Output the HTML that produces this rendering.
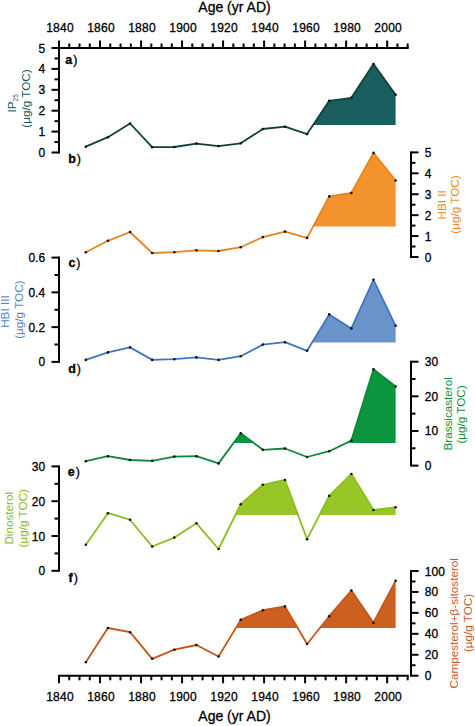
<!DOCTYPE html>
<html><head><meta charset="utf-8"><style>
html,body{margin:0;padding:0;background:#fff;width:475px;height:726px;overflow:hidden}
</style></head><body>
<svg width="475" height="726" viewBox="0 0 475 726" style="display:block">
<rect width="475" height="726" fill="#fff"/>
<path d="M313.08,125.10 L329.23,100.80 L351.36,97.80 L373.49,64.00 L395.62,94.80 L395.62,125.10 Z " fill="#1b5e5f"/>
<polyline points="85.80,146.70 107.93,137.20 130.06,123.50 152.19,147.20 174.32,147.00 196.45,143.60 218.58,146.10 240.71,143.30 262.84,129.00 284.97,126.70 307.10,134.10 329.23,100.80 351.36,97.80 373.49,64.00 395.62,94.80" fill="none" stroke="#11403f" stroke-width="1.8" stroke-linejoin="round"/>
<circle cx="85.80" cy="146.70" r="1.3" fill="#111"/>
<circle cx="107.93" cy="137.20" r="1.3" fill="#111"/>
<circle cx="130.06" cy="123.50" r="1.3" fill="#111"/>
<circle cx="152.19" cy="147.20" r="1.3" fill="#111"/>
<circle cx="174.32" cy="147.00" r="1.3" fill="#111"/>
<circle cx="196.45" cy="143.60" r="1.3" fill="#111"/>
<circle cx="218.58" cy="146.10" r="1.3" fill="#111"/>
<circle cx="240.71" cy="143.30" r="1.3" fill="#111"/>
<circle cx="262.84" cy="129.00" r="1.3" fill="#111"/>
<circle cx="284.97" cy="126.70" r="1.3" fill="#111"/>
<circle cx="307.10" cy="134.10" r="1.3" fill="#111"/>
<circle cx="329.23" cy="100.80" r="1.3" fill="#111"/>
<circle cx="351.36" cy="97.80" r="1.3" fill="#111"/>
<circle cx="373.49" cy="64.00" r="1.3" fill="#111"/>
<circle cx="395.62" cy="94.80" r="1.3" fill="#111"/>
<path d="M313.13,226.60 L329.23,196.40 L351.36,193.00 L373.49,152.90 L395.62,180.50 L395.62,226.60 Z " fill="#f2932d"/>
<polyline points="85.80,252.20 107.93,240.80 130.06,232.00 152.19,253.00 174.32,252.20 196.45,250.30 218.58,251.00 240.71,247.20 262.84,237.10 284.97,231.60 307.10,237.90 329.23,196.40 351.36,193.00 373.49,152.90 395.62,180.50" fill="none" stroke="#e9841c" stroke-width="1.8" stroke-linejoin="round"/>
<circle cx="85.80" cy="252.20" r="1.3" fill="#111"/>
<circle cx="107.93" cy="240.80" r="1.3" fill="#111"/>
<circle cx="130.06" cy="232.00" r="1.3" fill="#111"/>
<circle cx="152.19" cy="253.00" r="1.3" fill="#111"/>
<circle cx="174.32" cy="252.20" r="1.3" fill="#111"/>
<circle cx="196.45" cy="250.30" r="1.3" fill="#111"/>
<circle cx="218.58" cy="251.00" r="1.3" fill="#111"/>
<circle cx="240.71" cy="247.20" r="1.3" fill="#111"/>
<circle cx="262.84" cy="237.10" r="1.3" fill="#111"/>
<circle cx="284.97" cy="231.60" r="1.3" fill="#111"/>
<circle cx="307.10" cy="237.90" r="1.3" fill="#111"/>
<circle cx="329.23" cy="196.40" r="1.3" fill="#111"/>
<circle cx="351.36" cy="193.00" r="1.3" fill="#111"/>
<circle cx="373.49" cy="152.90" r="1.3" fill="#111"/>
<circle cx="395.62" cy="180.50" r="1.3" fill="#111"/>
<path d="M312.09,342.60 L329.23,314.40 L351.36,328.40 L373.49,279.80 L395.62,325.80 L395.62,342.60 Z " fill="#6a92cb"/>
<polyline points="85.80,359.90 107.93,352.40 130.06,347.40 152.19,359.90 174.32,359.20 196.45,357.40 218.58,359.90 240.71,356.20 262.84,344.60 284.97,342.20 307.10,350.80 329.23,314.40 351.36,328.40 373.49,279.80 395.62,325.80" fill="none" stroke="#4275c0" stroke-width="1.8" stroke-linejoin="round"/>
<circle cx="85.80" cy="359.90" r="1.3" fill="#111"/>
<circle cx="107.93" cy="352.40" r="1.3" fill="#111"/>
<circle cx="130.06" cy="347.40" r="1.3" fill="#111"/>
<circle cx="152.19" cy="359.90" r="1.3" fill="#111"/>
<circle cx="174.32" cy="359.20" r="1.3" fill="#111"/>
<circle cx="196.45" cy="357.40" r="1.3" fill="#111"/>
<circle cx="218.58" cy="359.90" r="1.3" fill="#111"/>
<circle cx="240.71" cy="356.20" r="1.3" fill="#111"/>
<circle cx="262.84" cy="344.60" r="1.3" fill="#111"/>
<circle cx="284.97" cy="342.20" r="1.3" fill="#111"/>
<circle cx="307.10" cy="350.80" r="1.3" fill="#111"/>
<circle cx="329.23" cy="314.40" r="1.3" fill="#111"/>
<circle cx="351.36" cy="328.40" r="1.3" fill="#111"/>
<circle cx="373.49" cy="279.80" r="1.3" fill="#111"/>
<circle cx="395.62" cy="325.80" r="1.3" fill="#111"/>
<path d="M233.50,443.10 L240.71,433.30 L253.85,443.10 Z M346.14,443.10 L351.36,440.60 L373.49,369.30 L395.62,386.50 L395.62,443.10 Z " fill="#0a953e"/>
<polyline points="85.80,461.20 107.93,456.20 130.06,460.00 152.19,460.80 174.32,456.60 196.45,456.20 218.58,463.40 240.71,433.30 262.84,449.80 284.97,448.50 307.10,457.00 329.23,451.20 351.36,440.60 373.49,369.30 395.62,386.50" fill="none" stroke="#0a8a38" stroke-width="1.8" stroke-linejoin="round"/>
<circle cx="85.80" cy="461.20" r="1.3" fill="#111"/>
<circle cx="107.93" cy="456.20" r="1.3" fill="#111"/>
<circle cx="130.06" cy="460.00" r="1.3" fill="#111"/>
<circle cx="152.19" cy="460.80" r="1.3" fill="#111"/>
<circle cx="174.32" cy="456.60" r="1.3" fill="#111"/>
<circle cx="196.45" cy="456.20" r="1.3" fill="#111"/>
<circle cx="218.58" cy="463.40" r="1.3" fill="#111"/>
<circle cx="240.71" cy="433.30" r="1.3" fill="#111"/>
<circle cx="262.84" cy="449.80" r="1.3" fill="#111"/>
<circle cx="284.97" cy="448.50" r="1.3" fill="#111"/>
<circle cx="307.10" cy="457.00" r="1.3" fill="#111"/>
<circle cx="329.23" cy="451.20" r="1.3" fill="#111"/>
<circle cx="351.36" cy="440.60" r="1.3" fill="#111"/>
<circle cx="373.49" cy="369.30" r="1.3" fill="#111"/>
<circle cx="395.62" cy="386.50" r="1.3" fill="#111"/>
<path d="M235.38,515.00 L240.71,504.20 L262.84,484.80 L284.97,480.00 L298.05,515.00 Z M319.47,515.00 L329.23,495.90 L351.36,474.00 L373.49,510.00 L395.62,507.30 L395.62,515.00 Z " fill="#98c626"/>
<polyline points="85.80,544.70 107.93,513.20 130.06,519.70 152.19,546.50 174.32,537.60 196.45,523.30 218.58,549.00 240.71,504.20 262.84,484.80 284.97,480.00 307.10,539.20 329.23,495.90 351.36,474.00 373.49,510.00 395.62,507.30" fill="none" stroke="#88bf1e" stroke-width="1.8" stroke-linejoin="round"/>
<circle cx="85.80" cy="544.70" r="1.3" fill="#111"/>
<circle cx="107.93" cy="513.20" r="1.3" fill="#111"/>
<circle cx="130.06" cy="519.70" r="1.3" fill="#111"/>
<circle cx="152.19" cy="546.50" r="1.3" fill="#111"/>
<circle cx="174.32" cy="537.60" r="1.3" fill="#111"/>
<circle cx="196.45" cy="523.30" r="1.3" fill="#111"/>
<circle cx="218.58" cy="549.00" r="1.3" fill="#111"/>
<circle cx="240.71" cy="504.20" r="1.3" fill="#111"/>
<circle cx="262.84" cy="484.80" r="1.3" fill="#111"/>
<circle cx="284.97" cy="480.00" r="1.3" fill="#111"/>
<circle cx="307.10" cy="539.20" r="1.3" fill="#111"/>
<circle cx="329.23" cy="495.90" r="1.3" fill="#111"/>
<circle cx="351.36" cy="474.00" r="1.3" fill="#111"/>
<circle cx="373.49" cy="510.00" r="1.3" fill="#111"/>
<circle cx="395.62" cy="507.30" r="1.3" fill="#111"/>
<path d="M235.81,628.00 L240.71,619.90 L262.84,610.20 L284.97,606.40 L297.68,628.00 Z M319.84,628.00 L329.23,616.20 L351.36,590.50 L373.49,622.70 L395.62,580.80 L395.62,628.00 Z " fill="#cc6020"/>
<polyline points="85.80,662.20 107.93,628.00 130.06,632.20 152.19,658.80 174.32,649.70 196.45,645.00 218.58,656.50 240.71,619.90 262.84,610.20 284.97,606.40 307.10,644.00 329.23,616.20 351.36,590.50 373.49,622.70 395.62,580.80" fill="none" stroke="#c5561a" stroke-width="1.8" stroke-linejoin="round"/>
<circle cx="85.80" cy="662.20" r="1.3" fill="#111"/>
<circle cx="107.93" cy="628.00" r="1.3" fill="#111"/>
<circle cx="130.06" cy="632.20" r="1.3" fill="#111"/>
<circle cx="152.19" cy="658.80" r="1.3" fill="#111"/>
<circle cx="174.32" cy="649.70" r="1.3" fill="#111"/>
<circle cx="196.45" cy="645.00" r="1.3" fill="#111"/>
<circle cx="218.58" cy="656.50" r="1.3" fill="#111"/>
<circle cx="240.71" cy="619.90" r="1.3" fill="#111"/>
<circle cx="262.84" cy="610.20" r="1.3" fill="#111"/>
<circle cx="284.97" cy="606.40" r="1.3" fill="#111"/>
<circle cx="307.10" cy="644.00" r="1.3" fill="#111"/>
<circle cx="329.23" cy="616.20" r="1.3" fill="#111"/>
<circle cx="351.36" cy="590.50" r="1.3" fill="#111"/>
<circle cx="373.49" cy="622.70" r="1.3" fill="#111"/>
<circle cx="395.62" cy="580.80" r="1.3" fill="#111"/>
<line x1="58.00" y1="48.00" x2="408.67" y2="48.00" stroke="#000" stroke-width="2"/>
<line x1="59.00" y1="48.00" x2="59.00" y2="40.50" stroke="#000" stroke-width="2"/>
<text x="60.00" y="32.00" font-size="12" text-anchor="middle" font-weight="normal" fill="#000" stroke="#000" stroke-width="0.3" style="font-family:'Liberation Sans', sans-serif;" letter-spacing="0.25">1840</text>
<line x1="69.25" y1="48.00" x2="69.25" y2="43.50" stroke="#000" stroke-width="2"/>
<line x1="79.51" y1="48.00" x2="79.51" y2="43.50" stroke="#000" stroke-width="2"/>
<line x1="89.77" y1="48.00" x2="89.77" y2="43.50" stroke="#000" stroke-width="2"/>
<line x1="100.02" y1="48.00" x2="100.02" y2="40.50" stroke="#000" stroke-width="2"/>
<text x="101.02" y="32.00" font-size="12" text-anchor="middle" font-weight="normal" fill="#000" stroke="#000" stroke-width="0.3" style="font-family:'Liberation Sans', sans-serif;" letter-spacing="0.25">1860</text>
<line x1="110.28" y1="48.00" x2="110.28" y2="43.50" stroke="#000" stroke-width="2"/>
<line x1="120.53" y1="48.00" x2="120.53" y2="43.50" stroke="#000" stroke-width="2"/>
<line x1="130.79" y1="48.00" x2="130.79" y2="43.50" stroke="#000" stroke-width="2"/>
<line x1="141.04" y1="48.00" x2="141.04" y2="40.50" stroke="#000" stroke-width="2"/>
<text x="142.04" y="32.00" font-size="12" text-anchor="middle" font-weight="normal" fill="#000" stroke="#000" stroke-width="0.3" style="font-family:'Liberation Sans', sans-serif;" letter-spacing="0.25">1880</text>
<line x1="151.30" y1="48.00" x2="151.30" y2="43.50" stroke="#000" stroke-width="2"/>
<line x1="161.55" y1="48.00" x2="161.55" y2="43.50" stroke="#000" stroke-width="2"/>
<line x1="171.81" y1="48.00" x2="171.81" y2="43.50" stroke="#000" stroke-width="2"/>
<line x1="182.06" y1="48.00" x2="182.06" y2="40.50" stroke="#000" stroke-width="2"/>
<text x="183.06" y="32.00" font-size="12" text-anchor="middle" font-weight="normal" fill="#000" stroke="#000" stroke-width="0.3" style="font-family:'Liberation Sans', sans-serif;" letter-spacing="0.25">1900</text>
<line x1="192.31" y1="48.00" x2="192.31" y2="43.50" stroke="#000" stroke-width="2"/>
<line x1="202.57" y1="48.00" x2="202.57" y2="43.50" stroke="#000" stroke-width="2"/>
<line x1="212.83" y1="48.00" x2="212.83" y2="43.50" stroke="#000" stroke-width="2"/>
<line x1="223.08" y1="48.00" x2="223.08" y2="40.50" stroke="#000" stroke-width="2"/>
<text x="224.08" y="32.00" font-size="12" text-anchor="middle" font-weight="normal" fill="#000" stroke="#000" stroke-width="0.3" style="font-family:'Liberation Sans', sans-serif;" letter-spacing="0.25">1920</text>
<line x1="233.34" y1="48.00" x2="233.34" y2="43.50" stroke="#000" stroke-width="2"/>
<line x1="243.59" y1="48.00" x2="243.59" y2="43.50" stroke="#000" stroke-width="2"/>
<line x1="253.85" y1="48.00" x2="253.85" y2="43.50" stroke="#000" stroke-width="2"/>
<line x1="264.10" y1="48.00" x2="264.10" y2="40.50" stroke="#000" stroke-width="2"/>
<text x="265.10" y="32.00" font-size="12" text-anchor="middle" font-weight="normal" fill="#000" stroke="#000" stroke-width="0.3" style="font-family:'Liberation Sans', sans-serif;" letter-spacing="0.25">1940</text>
<line x1="274.36" y1="48.00" x2="274.36" y2="43.50" stroke="#000" stroke-width="2"/>
<line x1="284.61" y1="48.00" x2="284.61" y2="43.50" stroke="#000" stroke-width="2"/>
<line x1="294.87" y1="48.00" x2="294.87" y2="43.50" stroke="#000" stroke-width="2"/>
<line x1="305.12" y1="48.00" x2="305.12" y2="40.50" stroke="#000" stroke-width="2"/>
<text x="306.12" y="32.00" font-size="12" text-anchor="middle" font-weight="normal" fill="#000" stroke="#000" stroke-width="0.3" style="font-family:'Liberation Sans', sans-serif;" letter-spacing="0.25">1960</text>
<line x1="315.38" y1="48.00" x2="315.38" y2="43.50" stroke="#000" stroke-width="2"/>
<line x1="325.63" y1="48.00" x2="325.63" y2="43.50" stroke="#000" stroke-width="2"/>
<line x1="335.89" y1="48.00" x2="335.89" y2="43.50" stroke="#000" stroke-width="2"/>
<line x1="346.14" y1="48.00" x2="346.14" y2="40.50" stroke="#000" stroke-width="2"/>
<text x="347.14" y="32.00" font-size="12" text-anchor="middle" font-weight="normal" fill="#000" stroke="#000" stroke-width="0.3" style="font-family:'Liberation Sans', sans-serif;" letter-spacing="0.25">1980</text>
<line x1="356.40" y1="48.00" x2="356.40" y2="43.50" stroke="#000" stroke-width="2"/>
<line x1="366.65" y1="48.00" x2="366.65" y2="43.50" stroke="#000" stroke-width="2"/>
<line x1="376.91" y1="48.00" x2="376.91" y2="43.50" stroke="#000" stroke-width="2"/>
<line x1="387.16" y1="48.00" x2="387.16" y2="40.50" stroke="#000" stroke-width="2"/>
<text x="388.16" y="32.00" font-size="12" text-anchor="middle" font-weight="normal" fill="#000" stroke="#000" stroke-width="0.3" style="font-family:'Liberation Sans', sans-serif;" letter-spacing="0.25">2000</text>
<line x1="397.42" y1="48.00" x2="397.42" y2="43.50" stroke="#000" stroke-width="2"/>
<line x1="407.67" y1="48.00" x2="407.67" y2="43.50" stroke="#000" stroke-width="2"/>
<line x1="58.00" y1="675.80" x2="408.67" y2="675.80" stroke="#000" stroke-width="2"/>
<line x1="59.00" y1="675.80" x2="59.00" y2="683.30" stroke="#000" stroke-width="2"/>
<text x="60.00" y="700.60" font-size="12" text-anchor="middle" font-weight="normal" fill="#000" stroke="#000" stroke-width="0.3" style="font-family:'Liberation Sans', sans-serif;" letter-spacing="0.25">1840</text>
<line x1="69.25" y1="675.80" x2="69.25" y2="680.30" stroke="#000" stroke-width="2"/>
<line x1="79.51" y1="675.80" x2="79.51" y2="680.30" stroke="#000" stroke-width="2"/>
<line x1="89.77" y1="675.80" x2="89.77" y2="680.30" stroke="#000" stroke-width="2"/>
<line x1="100.02" y1="675.80" x2="100.02" y2="683.30" stroke="#000" stroke-width="2"/>
<text x="101.02" y="700.60" font-size="12" text-anchor="middle" font-weight="normal" fill="#000" stroke="#000" stroke-width="0.3" style="font-family:'Liberation Sans', sans-serif;" letter-spacing="0.25">1860</text>
<line x1="110.28" y1="675.80" x2="110.28" y2="680.30" stroke="#000" stroke-width="2"/>
<line x1="120.53" y1="675.80" x2="120.53" y2="680.30" stroke="#000" stroke-width="2"/>
<line x1="130.79" y1="675.80" x2="130.79" y2="680.30" stroke="#000" stroke-width="2"/>
<line x1="141.04" y1="675.80" x2="141.04" y2="683.30" stroke="#000" stroke-width="2"/>
<text x="142.04" y="700.60" font-size="12" text-anchor="middle" font-weight="normal" fill="#000" stroke="#000" stroke-width="0.3" style="font-family:'Liberation Sans', sans-serif;" letter-spacing="0.25">1880</text>
<line x1="151.30" y1="675.80" x2="151.30" y2="680.30" stroke="#000" stroke-width="2"/>
<line x1="161.55" y1="675.80" x2="161.55" y2="680.30" stroke="#000" stroke-width="2"/>
<line x1="171.81" y1="675.80" x2="171.81" y2="680.30" stroke="#000" stroke-width="2"/>
<line x1="182.06" y1="675.80" x2="182.06" y2="683.30" stroke="#000" stroke-width="2"/>
<text x="183.06" y="700.60" font-size="12" text-anchor="middle" font-weight="normal" fill="#000" stroke="#000" stroke-width="0.3" style="font-family:'Liberation Sans', sans-serif;" letter-spacing="0.25">1900</text>
<line x1="192.31" y1="675.80" x2="192.31" y2="680.30" stroke="#000" stroke-width="2"/>
<line x1="202.57" y1="675.80" x2="202.57" y2="680.30" stroke="#000" stroke-width="2"/>
<line x1="212.83" y1="675.80" x2="212.83" y2="680.30" stroke="#000" stroke-width="2"/>
<line x1="223.08" y1="675.80" x2="223.08" y2="683.30" stroke="#000" stroke-width="2"/>
<text x="224.08" y="700.60" font-size="12" text-anchor="middle" font-weight="normal" fill="#000" stroke="#000" stroke-width="0.3" style="font-family:'Liberation Sans', sans-serif;" letter-spacing="0.25">1920</text>
<line x1="233.34" y1="675.80" x2="233.34" y2="680.30" stroke="#000" stroke-width="2"/>
<line x1="243.59" y1="675.80" x2="243.59" y2="680.30" stroke="#000" stroke-width="2"/>
<line x1="253.85" y1="675.80" x2="253.85" y2="680.30" stroke="#000" stroke-width="2"/>
<line x1="264.10" y1="675.80" x2="264.10" y2="683.30" stroke="#000" stroke-width="2"/>
<text x="265.10" y="700.60" font-size="12" text-anchor="middle" font-weight="normal" fill="#000" stroke="#000" stroke-width="0.3" style="font-family:'Liberation Sans', sans-serif;" letter-spacing="0.25">1940</text>
<line x1="274.36" y1="675.80" x2="274.36" y2="680.30" stroke="#000" stroke-width="2"/>
<line x1="284.61" y1="675.80" x2="284.61" y2="680.30" stroke="#000" stroke-width="2"/>
<line x1="294.87" y1="675.80" x2="294.87" y2="680.30" stroke="#000" stroke-width="2"/>
<line x1="305.12" y1="675.80" x2="305.12" y2="683.30" stroke="#000" stroke-width="2"/>
<text x="306.12" y="700.60" font-size="12" text-anchor="middle" font-weight="normal" fill="#000" stroke="#000" stroke-width="0.3" style="font-family:'Liberation Sans', sans-serif;" letter-spacing="0.25">1960</text>
<line x1="315.38" y1="675.80" x2="315.38" y2="680.30" stroke="#000" stroke-width="2"/>
<line x1="325.63" y1="675.80" x2="325.63" y2="680.30" stroke="#000" stroke-width="2"/>
<line x1="335.89" y1="675.80" x2="335.89" y2="680.30" stroke="#000" stroke-width="2"/>
<line x1="346.14" y1="675.80" x2="346.14" y2="683.30" stroke="#000" stroke-width="2"/>
<text x="347.14" y="700.60" font-size="12" text-anchor="middle" font-weight="normal" fill="#000" stroke="#000" stroke-width="0.3" style="font-family:'Liberation Sans', sans-serif;" letter-spacing="0.25">1980</text>
<line x1="356.40" y1="675.80" x2="356.40" y2="680.30" stroke="#000" stroke-width="2"/>
<line x1="366.65" y1="675.80" x2="366.65" y2="680.30" stroke="#000" stroke-width="2"/>
<line x1="376.91" y1="675.80" x2="376.91" y2="680.30" stroke="#000" stroke-width="2"/>
<line x1="387.16" y1="675.80" x2="387.16" y2="683.30" stroke="#000" stroke-width="2"/>
<text x="388.16" y="700.60" font-size="12" text-anchor="middle" font-weight="normal" fill="#000" stroke="#000" stroke-width="0.3" style="font-family:'Liberation Sans', sans-serif;" letter-spacing="0.25">2000</text>
<line x1="397.42" y1="675.80" x2="397.42" y2="680.30" stroke="#000" stroke-width="2"/>
<line x1="407.67" y1="675.80" x2="407.67" y2="680.30" stroke="#000" stroke-width="2"/>
<text x="234.50" y="11.90" font-size="14" text-anchor="middle" font-weight="normal" fill="#000" stroke="#000" stroke-width="0.3" style="font-family:'Liberation Sans', sans-serif;" >Age (yr AD)</text>
<text x="234.50" y="721.00" font-size="14" text-anchor="middle" font-weight="normal" fill="#000" stroke="#000" stroke-width="0.3" style="font-family:'Liberation Sans', sans-serif;" >Age (yr AD)</text>
<line x1="59.00" y1="47.00" x2="59.00" y2="153.50" stroke="#000" stroke-width="2"/>
<line x1="51.50" y1="48.00" x2="59.00" y2="48.00" stroke="#000" stroke-width="2"/>
<line x1="54.50" y1="58.45" x2="59.00" y2="58.45" stroke="#000" stroke-width="2"/>
<line x1="51.50" y1="68.90" x2="59.00" y2="68.90" stroke="#000" stroke-width="2"/>
<line x1="54.50" y1="79.35" x2="59.00" y2="79.35" stroke="#000" stroke-width="2"/>
<line x1="51.50" y1="89.80" x2="59.00" y2="89.80" stroke="#000" stroke-width="2"/>
<line x1="54.50" y1="100.25" x2="59.00" y2="100.25" stroke="#000" stroke-width="2"/>
<line x1="51.50" y1="110.70" x2="59.00" y2="110.70" stroke="#000" stroke-width="2"/>
<line x1="54.50" y1="121.15" x2="59.00" y2="121.15" stroke="#000" stroke-width="2"/>
<line x1="51.50" y1="131.60" x2="59.00" y2="131.60" stroke="#000" stroke-width="2"/>
<line x1="54.50" y1="142.05" x2="59.00" y2="142.05" stroke="#000" stroke-width="2"/>
<line x1="51.50" y1="152.50" x2="59.00" y2="152.50" stroke="#000" stroke-width="2"/>
<text x="45.10" y="52.50" font-size="12" text-anchor="end" font-weight="normal" fill="#000" stroke="#000" stroke-width="0.3" style="font-family:'Liberation Sans', sans-serif;" >5</text>
<text x="45.10" y="73.40" font-size="12" text-anchor="end" font-weight="normal" fill="#000" stroke="#000" stroke-width="0.3" style="font-family:'Liberation Sans', sans-serif;" >4</text>
<text x="45.10" y="94.30" font-size="12" text-anchor="end" font-weight="normal" fill="#000" stroke="#000" stroke-width="0.3" style="font-family:'Liberation Sans', sans-serif;" >3</text>
<text x="45.10" y="115.20" font-size="12" text-anchor="end" font-weight="normal" fill="#000" stroke="#000" stroke-width="0.3" style="font-family:'Liberation Sans', sans-serif;" >2</text>
<text x="45.10" y="136.10" font-size="12" text-anchor="end" font-weight="normal" fill="#000" stroke="#000" stroke-width="0.3" style="font-family:'Liberation Sans', sans-serif;" >1</text>
<text x="45.10" y="157.00" font-size="12" text-anchor="end" font-weight="normal" fill="#000" stroke="#000" stroke-width="0.3" style="font-family:'Liberation Sans', sans-serif;" >0</text>
<text x="65.20" y="63.60" font-size="12.5" text-anchor="start" font-weight="bold" fill="#000" stroke="#000" stroke-width="0.3" style="font-family:'Liberation Sans', sans-serif;" >a<tspan font-weight="normal" dx="1.0">)</tspan></text>
<line x1="411.00" y1="151.40" x2="411.00" y2="258.00" stroke="#000" stroke-width="2"/>
<line x1="411.00" y1="152.40" x2="418.50" y2="152.40" stroke="#000" stroke-width="2"/>
<line x1="411.00" y1="162.86" x2="415.50" y2="162.86" stroke="#000" stroke-width="2"/>
<line x1="411.00" y1="173.32" x2="418.50" y2="173.32" stroke="#000" stroke-width="2"/>
<line x1="411.00" y1="183.78" x2="415.50" y2="183.78" stroke="#000" stroke-width="2"/>
<line x1="411.00" y1="194.24" x2="418.50" y2="194.24" stroke="#000" stroke-width="2"/>
<line x1="411.00" y1="204.70" x2="415.50" y2="204.70" stroke="#000" stroke-width="2"/>
<line x1="411.00" y1="215.16" x2="418.50" y2="215.16" stroke="#000" stroke-width="2"/>
<line x1="411.00" y1="225.62" x2="415.50" y2="225.62" stroke="#000" stroke-width="2"/>
<line x1="411.00" y1="236.08" x2="418.50" y2="236.08" stroke="#000" stroke-width="2"/>
<line x1="411.00" y1="246.54" x2="415.50" y2="246.54" stroke="#000" stroke-width="2"/>
<line x1="411.00" y1="257.00" x2="418.50" y2="257.00" stroke="#000" stroke-width="2"/>
<text x="424.80" y="156.90" font-size="12" text-anchor="start" font-weight="normal" fill="#000" stroke="#000" stroke-width="0.3" style="font-family:'Liberation Sans', sans-serif;" >5</text>
<text x="424.80" y="177.82" font-size="12" text-anchor="start" font-weight="normal" fill="#000" stroke="#000" stroke-width="0.3" style="font-family:'Liberation Sans', sans-serif;" >4</text>
<text x="424.80" y="198.74" font-size="12" text-anchor="start" font-weight="normal" fill="#000" stroke="#000" stroke-width="0.3" style="font-family:'Liberation Sans', sans-serif;" >3</text>
<text x="424.80" y="219.66" font-size="12" text-anchor="start" font-weight="normal" fill="#000" stroke="#000" stroke-width="0.3" style="font-family:'Liberation Sans', sans-serif;" >2</text>
<text x="424.80" y="240.58" font-size="12" text-anchor="start" font-weight="normal" fill="#000" stroke="#000" stroke-width="0.3" style="font-family:'Liberation Sans', sans-serif;" >1</text>
<text x="424.80" y="261.50" font-size="12" text-anchor="start" font-weight="normal" fill="#000" stroke="#000" stroke-width="0.3" style="font-family:'Liberation Sans', sans-serif;" >0</text>
<text x="68.20" y="162.80" font-size="12.5" text-anchor="start" font-weight="bold" fill="#000" stroke="#000" stroke-width="0.3" style="font-family:'Liberation Sans', sans-serif;" >b<tspan font-weight="normal" dx="1.0">)</tspan></text>
<line x1="59.00" y1="256.60" x2="59.00" y2="362.90" stroke="#000" stroke-width="2"/>
<line x1="51.50" y1="257.60" x2="59.00" y2="257.60" stroke="#000" stroke-width="2"/>
<line x1="54.50" y1="274.98" x2="59.00" y2="274.98" stroke="#000" stroke-width="2"/>
<line x1="51.50" y1="292.37" x2="59.00" y2="292.37" stroke="#000" stroke-width="2"/>
<line x1="54.50" y1="309.75" x2="59.00" y2="309.75" stroke="#000" stroke-width="2"/>
<line x1="51.50" y1="327.13" x2="59.00" y2="327.13" stroke="#000" stroke-width="2"/>
<line x1="54.50" y1="344.52" x2="59.00" y2="344.52" stroke="#000" stroke-width="2"/>
<line x1="51.50" y1="361.90" x2="59.00" y2="361.90" stroke="#000" stroke-width="2"/>
<text x="45.10" y="262.10" font-size="12" text-anchor="end" font-weight="normal" fill="#000" stroke="#000" stroke-width="0.3" style="font-family:'Liberation Sans', sans-serif;" >0.6</text>
<text x="45.10" y="296.87" font-size="12" text-anchor="end" font-weight="normal" fill="#000" stroke="#000" stroke-width="0.3" style="font-family:'Liberation Sans', sans-serif;" >0.4</text>
<text x="45.10" y="331.63" font-size="12" text-anchor="end" font-weight="normal" fill="#000" stroke="#000" stroke-width="0.3" style="font-family:'Liberation Sans', sans-serif;" >0.2</text>
<text x="45.10" y="366.40" font-size="12" text-anchor="end" font-weight="normal" fill="#000" stroke="#000" stroke-width="0.3" style="font-family:'Liberation Sans', sans-serif;" >0</text>
<text x="68.40" y="266.70" font-size="12.5" text-anchor="start" font-weight="bold" fill="#000" stroke="#000" stroke-width="0.3" style="font-family:'Liberation Sans', sans-serif;" >c<tspan font-weight="normal" dx="1.0">)</tspan></text>
<line x1="411.00" y1="360.70" x2="411.00" y2="466.60" stroke="#000" stroke-width="2"/>
<line x1="411.00" y1="361.70" x2="418.50" y2="361.70" stroke="#000" stroke-width="2"/>
<line x1="411.00" y1="379.02" x2="415.50" y2="379.02" stroke="#000" stroke-width="2"/>
<line x1="411.00" y1="396.33" x2="418.50" y2="396.33" stroke="#000" stroke-width="2"/>
<line x1="411.00" y1="413.65" x2="415.50" y2="413.65" stroke="#000" stroke-width="2"/>
<line x1="411.00" y1="430.97" x2="418.50" y2="430.97" stroke="#000" stroke-width="2"/>
<line x1="411.00" y1="448.28" x2="415.50" y2="448.28" stroke="#000" stroke-width="2"/>
<line x1="411.00" y1="465.60" x2="418.50" y2="465.60" stroke="#000" stroke-width="2"/>
<text x="424.80" y="366.20" font-size="12" text-anchor="start" font-weight="normal" fill="#000" stroke="#000" stroke-width="0.3" style="font-family:'Liberation Sans', sans-serif;" >30</text>
<text x="424.80" y="400.83" font-size="12" text-anchor="start" font-weight="normal" fill="#000" stroke="#000" stroke-width="0.3" style="font-family:'Liberation Sans', sans-serif;" >20</text>
<text x="424.80" y="435.47" font-size="12" text-anchor="start" font-weight="normal" fill="#000" stroke="#000" stroke-width="0.3" style="font-family:'Liberation Sans', sans-serif;" >10</text>
<text x="424.80" y="470.10" font-size="12" text-anchor="start" font-weight="normal" fill="#000" stroke="#000" stroke-width="0.3" style="font-family:'Liberation Sans', sans-serif;" >0</text>
<text x="68.20" y="372.60" font-size="12.5" text-anchor="start" font-weight="bold" fill="#000" stroke="#000" stroke-width="0.3" style="font-family:'Liberation Sans', sans-serif;" >d<tspan font-weight="normal" dx="1.0">)</tspan></text>
<line x1="59.00" y1="465.40" x2="59.00" y2="571.80" stroke="#000" stroke-width="2"/>
<line x1="51.50" y1="466.40" x2="59.00" y2="466.40" stroke="#000" stroke-width="2"/>
<line x1="54.50" y1="483.80" x2="59.00" y2="483.80" stroke="#000" stroke-width="2"/>
<line x1="51.50" y1="501.20" x2="59.00" y2="501.20" stroke="#000" stroke-width="2"/>
<line x1="54.50" y1="518.60" x2="59.00" y2="518.60" stroke="#000" stroke-width="2"/>
<line x1="51.50" y1="536.00" x2="59.00" y2="536.00" stroke="#000" stroke-width="2"/>
<line x1="54.50" y1="553.40" x2="59.00" y2="553.40" stroke="#000" stroke-width="2"/>
<line x1="51.50" y1="570.80" x2="59.00" y2="570.80" stroke="#000" stroke-width="2"/>
<text x="45.10" y="470.90" font-size="12" text-anchor="end" font-weight="normal" fill="#000" stroke="#000" stroke-width="0.3" style="font-family:'Liberation Sans', sans-serif;" >30</text>
<text x="45.10" y="505.70" font-size="12" text-anchor="end" font-weight="normal" fill="#000" stroke="#000" stroke-width="0.3" style="font-family:'Liberation Sans', sans-serif;" >20</text>
<text x="45.10" y="540.50" font-size="12" text-anchor="end" font-weight="normal" fill="#000" stroke="#000" stroke-width="0.3" style="font-family:'Liberation Sans', sans-serif;" >10</text>
<text x="45.10" y="575.30" font-size="12" text-anchor="end" font-weight="normal" fill="#000" stroke="#000" stroke-width="0.3" style="font-family:'Liberation Sans', sans-serif;" >0</text>
<text x="67.70" y="475.60" font-size="12.5" text-anchor="start" font-weight="bold" fill="#000" stroke="#000" stroke-width="0.3" style="font-family:'Liberation Sans', sans-serif;" >e<tspan font-weight="normal" dx="1.0">)</tspan></text>
<line x1="411.00" y1="570.00" x2="411.00" y2="676.70" stroke="#000" stroke-width="2"/>
<line x1="411.00" y1="571.00" x2="418.50" y2="571.00" stroke="#000" stroke-width="2"/>
<line x1="411.00" y1="581.47" x2="415.50" y2="581.47" stroke="#000" stroke-width="2"/>
<line x1="411.00" y1="591.94" x2="418.50" y2="591.94" stroke="#000" stroke-width="2"/>
<line x1="411.00" y1="602.41" x2="415.50" y2="602.41" stroke="#000" stroke-width="2"/>
<line x1="411.00" y1="612.88" x2="418.50" y2="612.88" stroke="#000" stroke-width="2"/>
<line x1="411.00" y1="623.35" x2="415.50" y2="623.35" stroke="#000" stroke-width="2"/>
<line x1="411.00" y1="633.82" x2="418.50" y2="633.82" stroke="#000" stroke-width="2"/>
<line x1="411.00" y1="644.29" x2="415.50" y2="644.29" stroke="#000" stroke-width="2"/>
<line x1="411.00" y1="654.76" x2="418.50" y2="654.76" stroke="#000" stroke-width="2"/>
<line x1="411.00" y1="665.23" x2="415.50" y2="665.23" stroke="#000" stroke-width="2"/>
<line x1="411.00" y1="675.70" x2="418.50" y2="675.70" stroke="#000" stroke-width="2"/>
<text x="424.80" y="575.50" font-size="12" text-anchor="start" font-weight="normal" fill="#000" stroke="#000" stroke-width="0.3" style="font-family:'Liberation Sans', sans-serif;" >100</text>
<text x="424.80" y="596.44" font-size="12" text-anchor="start" font-weight="normal" fill="#000" stroke="#000" stroke-width="0.3" style="font-family:'Liberation Sans', sans-serif;" >80</text>
<text x="424.80" y="617.38" font-size="12" text-anchor="start" font-weight="normal" fill="#000" stroke="#000" stroke-width="0.3" style="font-family:'Liberation Sans', sans-serif;" >60</text>
<text x="424.80" y="638.32" font-size="12" text-anchor="start" font-weight="normal" fill="#000" stroke="#000" stroke-width="0.3" style="font-family:'Liberation Sans', sans-serif;" >40</text>
<text x="424.80" y="659.26" font-size="12" text-anchor="start" font-weight="normal" fill="#000" stroke="#000" stroke-width="0.3" style="font-family:'Liberation Sans', sans-serif;" >20</text>
<text x="424.80" y="680.20" font-size="12" text-anchor="start" font-weight="normal" fill="#000" stroke="#000" stroke-width="0.3" style="font-family:'Liberation Sans', sans-serif;" >0</text>
<text x="68.60" y="582.20" font-size="12.5" text-anchor="start" font-weight="bold" fill="#000" stroke="#000" stroke-width="0.3" style="font-family:'Liberation Sans', sans-serif;" >f<tspan font-weight="normal" dx="1.0">)</tspan></text>
<text transform="translate(15.70,103.35) rotate(-90)" font-size="11.7" text-anchor="middle" fill="#195556" style="font-family:'Liberation Sans', sans-serif;">IP<tspan font-size="6.5" dy="2.5">25</tspan></text>
<text transform="translate(29.90,98.55) rotate(-90)" font-size="11.7" text-anchor="middle" fill="#195556" style="font-family:'Liberation Sans', sans-serif;">(µg/g TOC)</text>
<text transform="translate(445.60,204.95) rotate(-90)" font-size="11.7" text-anchor="middle" fill="#ec8a25" style="font-family:'Liberation Sans', sans-serif;">HBI II</text>
<text transform="translate(458.60,204.55) rotate(-90)" font-size="11.7" text-anchor="middle" fill="#ec8a25" style="font-family:'Liberation Sans', sans-serif;">(µg/g TOC)</text>
<text transform="translate(9.10,311.60) rotate(-90)" font-size="11.7" text-anchor="middle" fill="#5585c8" style="font-family:'Liberation Sans', sans-serif;">HBI III</text>
<text transform="translate(23.40,309.65) rotate(-90)" font-size="11.7" text-anchor="middle" fill="#5585c8" style="font-family:'Liberation Sans', sans-serif;">(µg/g TOC)</text>
<text transform="translate(451.70,413.85) rotate(-90)" font-size="11.7" text-anchor="middle" fill="#0a8f3b" style="font-family:'Liberation Sans', sans-serif;">Brassicasterol</text>
<text transform="translate(464.60,414.45) rotate(-90)" font-size="11.7" text-anchor="middle" fill="#0a8f3b" style="font-family:'Liberation Sans', sans-serif;">(µg/g TOC)</text>
<text transform="translate(13.10,518.30) rotate(-90)" font-size="11.7" text-anchor="middle" fill="#80bd1c" style="font-family:'Liberation Sans', sans-serif;">Dinosterol</text>
<text transform="translate(26.60,518.30) rotate(-90)" font-size="11.7" text-anchor="middle" fill="#80bd1c" style="font-family:'Liberation Sans', sans-serif;">(µg/g TOC)</text>
<text transform="translate(458.40,623.30) rotate(-90)" font-size="11.7" text-anchor="middle" fill="#c85a1c" style="font-family:'Liberation Sans', sans-serif;">Campesterol+β-sitosterol</text>
<text transform="translate(472.00,622.95) rotate(-90)" font-size="11.7" text-anchor="middle" fill="#c85a1c" style="font-family:'Liberation Sans', sans-serif;">(µg/g TOC)</text>
</svg>
</body></html>
